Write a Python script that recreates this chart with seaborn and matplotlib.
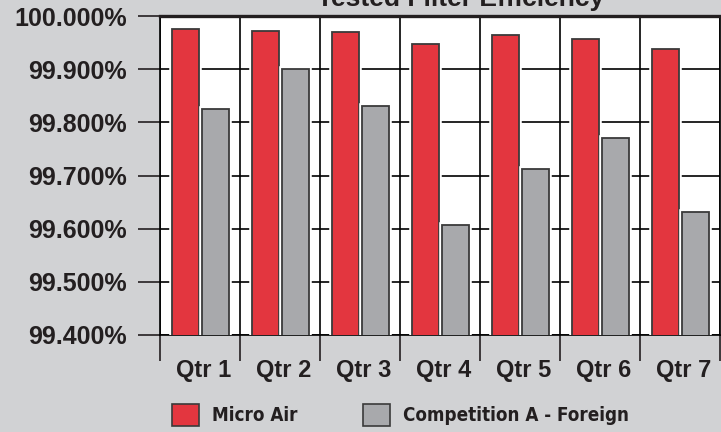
import pandas as pd
import matplotlib
matplotlib.use("Agg")
import matplotlib.pyplot as plt
import matplotlib.patheffects as pe
import matplotlib.transforms as mtransforms
from matplotlib import font_manager
from matplotlib.patches import Patch
from matplotlib.ticker import FixedLocator, FuncFormatter
import seaborn as sns

# Datos
quarters = ["Qtr 1", "Qtr 2", "Qtr 3", "Qtr 4", "Qtr 5", "Qtr 6", "Qtr 7"]
micro_air = [99.975, 99.972, 99.969, 99.948, 99.965, 99.957, 99.937]
competition = [99.825, 99.900, 99.831, 99.607, 99.712, 99.770, 99.631]
series_names = ["Micro Air", "Competition A - Foreign"]
y_ticks = [99.4, 99.5, 99.6, 99.7, 99.8, 99.9, 100.0]

RED = "#e3363f"
GRAY = "#a8a9ac"
BG = "#d1d2d4"
INK = "#231f20"
EDGE = "#3a3a3a"

df = pd.DataFrame({
    "quarter": quarters * 2,
    "value": micro_air + competition,
    "series": [series_names[0]] * len(quarters) + [series_names[1]] * len(quarters),
})

sns.set_theme(style="white")
plt.rcParams["font.family"] = ["Liberation Sans", "DejaVu Sans"]

# fuente estrecha para la leyenda, si hay alguna
narrow = None
for f in font_manager.fontManager.ttflist:
    cond = f.stretch in ("condensed", "semi-condensed", "extra-condensed") or \
        "Narrow" in f.name or "Condensed" in f.name
    if cond and f.weight in ("bold", 700, "heavy", 800, 900):
        narrow = font_manager.FontProperties(fname=f.fname, size=13.5)
        break
if narrow is None:
    narrow = font_manager.FontProperties(family="Liberation Sans", weight="bold", size=12)

fig = plt.figure(figsize=(7.21, 4.32), dpi=100, facecolor=BG)
ax = fig.add_axes([160 / 721, 97 / 432, 560 / 721, 319 / 432])
ax.set_facecolor("white")

sns.barplot(
    data=df, x="quarter", y="value", hue="series",
    palette=[RED, GRAY], saturation=1, width=0.75, gap=0.1,
    edgecolor=EDGE, linewidth=1.3, legend=False, ax=ax, zorder=3)

for p in ax.patches:
    p.set_path_effects([pe.Stroke(linewidth=4, foreground="white"), pe.Normal()])

ax.set_ylim(99.4, 100.0)
ax.set_xlim(-0.5, len(quarters) - 0.5)
ax.set_yticks(y_ticks)
ax.yaxis.set_major_formatter(FuncFormatter(lambda v, _: f"{v:.3f}%"))
ax.xaxis.set_minor_locator(FixedLocator([i - 0.5 for i in range(len(quarters) + 1)]))

ax.grid(True, axis="y", which="major", color="black", linewidth=1.2)
ax.grid(True, axis="x", which="minor", color="black", linewidth=1.2)
ax.grid(False, axis="x", which="major")
ax.set_axisbelow(True)

ax.tick_params(axis="y", which="major", length=16, width=1.2, color=INK, pad=8,
               labelsize=18, labelcolor=INK, direction="out", left=True)
ax.tick_params(axis="x", which="major", length=0, pad=17, labelsize=17, labelcolor=INK)
ax.tick_params(axis="x", which="minor", length=19, width=1.2, color=INK,
               direction="out", bottom=True)
for lab in ax.get_yticklabels() + ax.get_xticklabels():
    lab.set_fontweight("bold")
shift = mtransforms.ScaledTranslation(4 / 100, 0, fig.dpi_scale_trans)
for lab in ax.get_xticklabels():
    lab.set_transform(lab.get_transform() + shift)

ax.set_xlabel("")
ax.set_ylabel("")
for side in ["left", "right", "bottom"]:
    ax.spines[side].set_color("black")
    ax.spines[side].set_linewidth(1.2)
ax.spines["top"].set_color(INK)
ax.spines["top"].set_linewidth(2.4)

# título (cortado en la parte superior como en el original)
fig.text(461 / 721, (432 - 6) / 432, "Tested Filter Efficiency", ha="center",
         va="baseline", fontsize=19, fontweight="bold", color=INK)

# leyenda en dos piezas
for name, color, x0 in [(series_names[0], RED, 172), (series_names[1], GRAY, 363)]:
    fig.legend(handles=[Patch(facecolor=color, edgecolor=EDGE, linewidth=1.2, label=name)],
               loc="upper left", bbox_to_anchor=(x0 / 721, (432 - 404) / 432),
               frameon=False, prop=narrow, borderpad=0, borderaxespad=0,
               handlelength=1.45, handleheight=1.45, handletextpad=0.7,
               labelcolor=INK)

plt.savefig("out.png", dpi=100, facecolor=BG)
